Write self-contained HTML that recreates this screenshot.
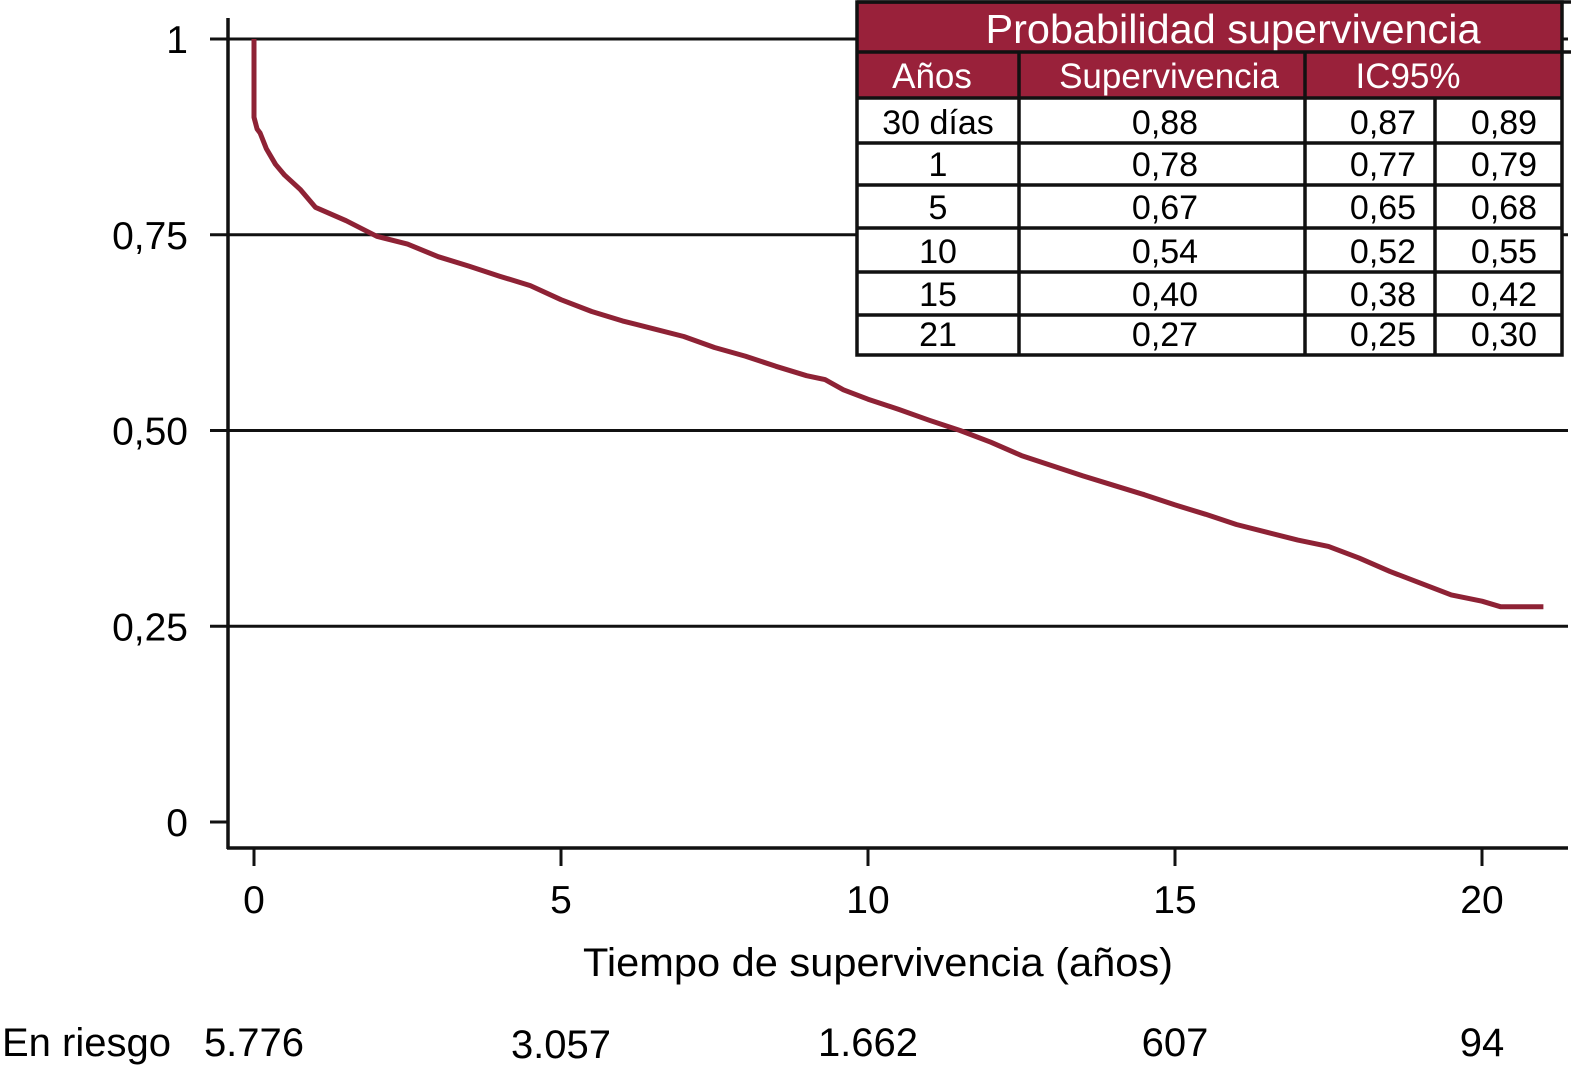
<!DOCTYPE html>
<html><head><meta charset="utf-8"><style>
body{margin:0;background:#fff;}
svg text{font-family:"Liberation Sans",sans-serif;}
</style></head><body>
<svg width="1571" height="1070" xmlns="http://www.w3.org/2000/svg">
<g id="grid"></g>
<g id="axes"></g>
<path id="curve" fill="none" stroke="#8e2235" stroke-width="5" stroke-linejoin="round"/>
<g id="table"></g>
<text x="878" y="976" font-size="40" text-anchor="middle" textLength="590" lengthAdjust="spacingAndGlyphs">Tiempo de supervivencia (años)</text>
<g id="risk"></g>
</svg>
<script>
const yTicks=[1,0.75,0.5,0.25,0];
const yTickLabels=["1","0,75","0,50","0,25","0"];
const xTicks=[0,5,10,15,20];
const times=[0,0,0.05,0.1,0.2,0.35,0.5,0.75,1,1.5,2,2.5,3,3.5,4,4.5,5,5.5,6,6.5,7,7.5,8,8.5,9,9.3,9.6,10,10.5,11,11.5,12,12.5,13,13.5,14,14.5,15,15.5,16,16.5,17,17.5,18,18.5,19,19.5,20,20.3,21];
const surv=[1,0.9,0.885,0.88,0.86,0.84,0.826,0.808,0.785,0.768,0.748,0.738,0.722,0.71,0.697,0.685,0.667,0.652,0.64,0.63,0.62,0.606,0.595,0.582,0.57,0.565,0.552,0.54,0.527,0.513,0.5,0.485,0.468,0.455,0.442,0.43,0.418,0.405,0.393,0.38,0.37,0.36,0.352,0.337,0.32,0.305,0.29,0.282,0.275,0.275];
const riskLabels=["5.776","3.057","1.662","607","94"];
const tableHead=["Años","Supervivencia","IC95%"];
const tableYears=["30 días","1","5","10","15","21"];
const tableSurv=["0,88","0,78","0,67","0,54","0,40","0,27"];
const tableLo=["0,87","0,77","0,65","0,52","0,38","0,25"];
const tableHi=["0,89","0,79","0,68","0,55","0,42","0,30"];

const NS="http://www.w3.org/2000/svg";
const X=t=>254+t*61.4;
const Y=s=>822-s*783;
function mk(tag,attrs,parent,text){const e=document.createElementNS(NS,tag);for(const k in attrs)e.setAttribute(k,attrs[k]);if(text!==undefined)e.textContent=text;parent.appendChild(e);return e;}
const grid=document.getElementById('grid'),axes=document.getElementById('axes');
yTicks.forEach((v,i)=>{
  if(v>0){const l=mk('line',{x1:210,x2:1568,y1:Y(v),y2:Y(v),stroke:'#111','stroke-width':3},grid);
  
  }
  else{const l=mk('line',{x1:210,x2:228,y1:Y(v),y2:Y(v),stroke:'#111','stroke-width':3},grid);
  
  }
  const t=mk('text',{x:188,y:Y(v)+14,'font-size':39,'text-anchor':'end'},axes,yTickLabels[i]);
  
  
});
mk('line',{x1:228,x2:228,y1:18,y2:849,stroke:'#111','stroke-width':3.5},axes);
mk('line',{x1:227,x2:1568,y1:848,y2:848,stroke:'#111','stroke-width':3.5},axes);
xTicks.forEach(v=>{
  const l=mk('line',{x1:X(v),x2:X(v),y1:848,y2:866,stroke:'#111','stroke-width':3},axes);
  
  
  const t=mk('text',{x:X(v),y:913,'font-size':39,'text-anchor':'middle'},axes,String(v));
  
  
});
document.getElementById('curve').setAttribute('d',times.map((t,i)=>(i?'L':'M')+X(t).toFixed(1)+','+Y(surv[i]).toFixed(1)).join(' '));
const risk=document.getElementById('risk');
const rl=mk('text',{x:2,y:1056,'font-size':40},risk,'En riesgo');


riskLabels.forEach((r,i)=>{
  const t=mk('text',{x:X(xTicks[i]),y:i==1?1058:1056,'font-size':40,'text-anchor':'middle'},risk,r);
  
  
});
const tb=document.getElementById('table');
const red='#99213a';
const L=857,R=1562;
const rows=[98,143,185,228,272,315,355];
mk('rect',{x:L,y:2,width:R-L,height:96,fill:red},tb);
mk('rect',{x:L,y:98,width:R-L,height:257,fill:'#fff'},tb);
const tt=mk('text',{x:1233,y:43,'font-size':41,fill:'#fff','text-anchor':'middle',textLength:495,lengthAdjust:'spacingAndGlyphs'},tb,'Probabilidad supervivencia');


[932,1169,1408].forEach((x,i)=>{
  const t=mk('text',{x:x,y:88,'font-size':35,fill:'#fff','text-anchor':'middle'},tb,tableHead[i]);
  
  
});
tableYears.forEach((y,i)=>{
  const base=rows[i+1]-9;
  [[938,y],[1165,tableSurv[i]],[1383,tableLo[i]],[1504,tableHi[i]]].forEach(([x,s])=>{
    const t=mk('text',{x:x,y:base,'font-size':34,'text-anchor':'middle'},tb,s);
    
    
  });
});
const S='#111';
mk('rect',{x:L,y:2,width:R-L,height:353,fill:'none',stroke:S,'stroke-width':3.5},tb);
mk('line',{x1:L,x2:1571,y1:52,y2:52,stroke:S,'stroke-width':3.5},tb);
mk('line',{x1:L,x2:1571,y1:2,y2:2,stroke:S,'stroke-width':3.5},tb);
rows.slice(0,-1).forEach(y=>mk('line',{x1:L,x2:R,y1:y,y2:y,stroke:S,'stroke-width':3.5},tb));
[1019,1305].forEach(x=>mk('line',{x1:x,x2:x,y1:52,y2:355,stroke:S,'stroke-width':3.5},tb));
mk('line',{x1:1435,x2:1435,y1:98,y2:355,stroke:S,'stroke-width':3.5},tb);
</script>
</body></html>
